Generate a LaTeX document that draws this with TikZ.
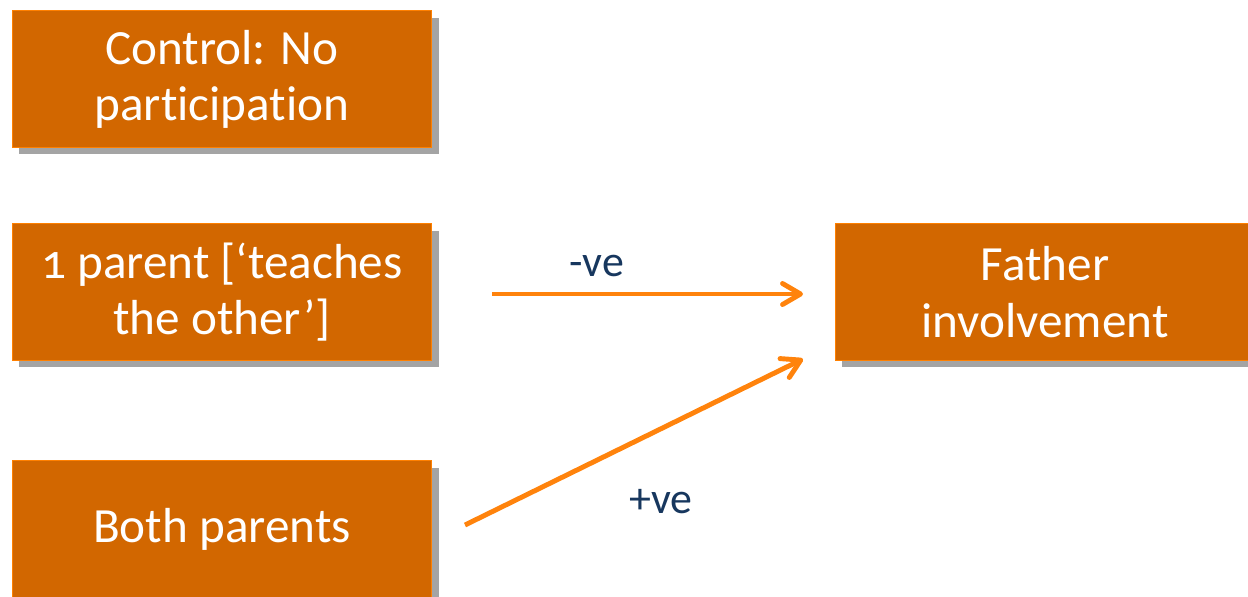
\documentclass[tikz,border=0pt]{standalone}
\usepackage{fontspec}
\setmainfont[Ligatures=NoCommon, Numbers=OldStyle]{Carlito}
\usetikzlibrary{shadows, arrows.meta}
\definecolor{boxfill}{HTML}{D26700}
\definecolor{boxline}{HTML}{FF8000}
\definecolor{arrcol}{HTML}{FF830C}
\definecolor{labcol}{HTML}{17375E}
\tikzset{
    normal/.style={draw=boxline, line width=0.6pt},
    b/.style={style=normal, fill=boxfill, text=white, align=center, minimum width=8.4cm, minimum height=2.74cm, inner sep=0pt, font=\fontsize{28}{32}\selectfont, drop shadow={shadow xshift=0.14cm, shadow yshift=-0.14cm, fill=black!55, opacity=0.65}}, % coloured boxes
    e/.style={draw=arrcol, line width=2.8pt, -{Straight Barb[round, length=0.36cm, width=0.42cm]}}, % effect arrows
    lab/.style={text=labcol, font=\fontsize{25}{30}\selectfont} % arrow labels
}

\begin{document}
\begin{tikzpicture}[x=0.02cm, y=-0.02cm]
        \useasboundingbox (0,0) rectangle (1248,596);
        \clip (0,0) rectangle (1248,596);

        \node[b] (ctrl) at (222,79)
        {Control: No\\participation};
        \node[b] (one) at (222,292)
        {1 parent [‘teaches\\the other’]};
        \node[b] (both) at (222,529)
        {Both parents};
        \node[b] (father) at (1045,292)
        {Father\\involvement};

        \coordinate (oneout) at (492,294);
        \coordinate (bothout) at (465,525);
        \coordinate (fatherin) at (803,294);
        \coordinate (fatherlow) at (803,359);

        \draw[e] (oneout) -- (fatherin);
        \draw[e] (bothout) -- (fatherlow);

        \node[lab] (neg) at (597,266) {-ve};
        \node[lab] (pos) at (661,502) {+ve};
      \end{tikzpicture}
\end{document}
